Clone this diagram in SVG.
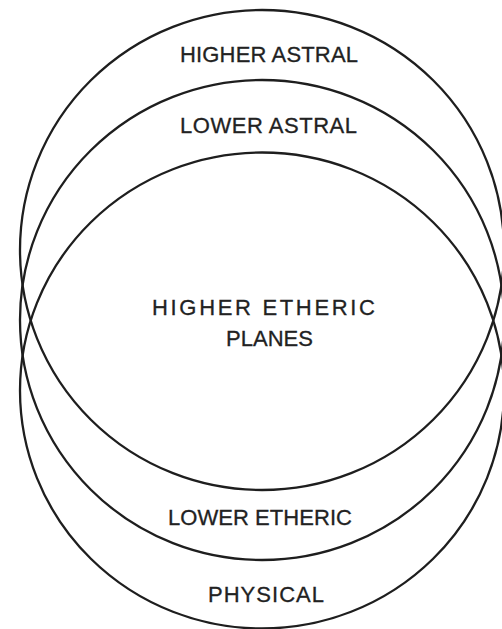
<svg xmlns="http://www.w3.org/2000/svg" width="502" height="629" viewBox="0 0 502 629">
<style>
.ring{fill:none;stroke:#1e1e1e;stroke-width:2.3}
.lbl{font-family:"Liberation Sans",Arial,sans-serif;font-size:22px;fill:#222;stroke:#222;stroke-width:0.3}
</style>
<rect width="502" height="629" fill="#fff"/>
<g id="astral-ring">
<ellipse class="ring" cx="262" cy="250" rx="242" ry="240"/>
</g>
<g id="middle-ring">
<ellipse class="ring" cx="262" cy="320" rx="242" ry="240"/>
</g>
<g id="etheric-ring">
<ellipse class="ring" cx="262" cy="390.5" rx="242" ry="238"/>
</g>
<g id="higher-astral"><text class="lbl" x="180" y="62" textLength="178" lengthAdjust="spacing">HIGHER ASTRAL</text></g>
<g id="lower-astral"><text class="lbl" x="180" y="133" textLength="177" lengthAdjust="spacing">LOWER ASTRAL</text></g>
<g id="higher-etheric"><text class="lbl" x="152" y="315" textLength="223" lengthAdjust="spacing">HIGHER ETHERIC</text><text class="lbl" x="226" y="346" textLength="87" lengthAdjust="spacing">PLANES</text></g>
<g id="lower-etheric"><text class="lbl" x="168" y="525" textLength="184" lengthAdjust="spacing">LOWER ETHERIC</text></g>
<g id="physical"><text class="lbl" x="208" y="602" textLength="116" lengthAdjust="spacing">PHYSICAL</text></g>
<g id="connectors"></g>
</svg>
